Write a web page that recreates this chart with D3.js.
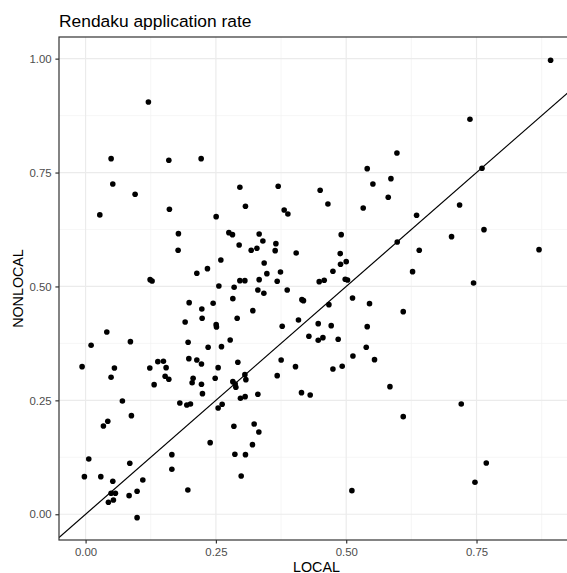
<!DOCTYPE html>
<html>
<head>
<meta charset="utf-8">
<script src="https://cdn.jsdelivr.net/npm/d3@7/dist/d3.min.js"></script>
<style>
	body { margin: 0; background: #fff; }
	svg { display: block; font-family: "Liberation Sans", Arial, Helvetica, sans-serif; }
</style>
</head>
<body>
<svg id="grafico" width="567" height="573"></svg>
<script>
// rendaku: tasa local vs no local, un punto por item
var local = [
	0.1205, 0.049, 0.1597, 0.2217, 0.0522, 0.095, 0.296, 0.3695, 0.450, 0.5403, 0.5512, 0.5858, 0.5806, 0.5973,
	0.8921, 0.7374, 0.7605,
	0.5326, 0.7175, 0.635, 0.7643, 0.7021, 0.5979, 0.6401, 0.8699, 0.6273, 0.7443, 0.5447, 0.6094, 0.5403,
	0.0273, 0.1238, 0.1276,
	0.1608, 0.2505, 0.3067, 0.381, 0.3881, 0.4649, 0.1781, 0.1775, 0.2749, 0.2818, 0.333, 0.3401, 0.2946,
	0.3651, 0.3637, 0.3177, 0.3286, 0.404, 0.4904, 0.4885, 0.2595, 0.3426, 0.5, 0.4891, 0.2134, 0.2338,
	0.3478, 0.3739, 0.4745, 0.296, 0.3056, 0.333, 0.3676, 0.4482, 0.4578, 0.4981, 0.5025, 0.2557, 0.285,
	0.3305, 0.342, 0.3868, 0.2825, 0.415, 0.418, 0.5121, 0.1987, 0.2447, 0.4668, 0.223, 0.3209, 0.2236,
	0.2908, 0.4084, 0.191, 0.2505, 0.2511, 0.3772, 0.4463, 0.4712, 0.4284, 0.4463, 0.4553, 0.4846, 0.2774,
	0.1967, 0.2351, 0.2607, 0.1493, 0.1545, 0.1981, 0.2134, 0.2223, 0.2921, 0.3752, 0.5129, 0.2543, 0.4027,
	0.4745, 0.4923, 0.1526, 0.1597, 0.2063, 0.2044, 0.2486, 0.3056, 0.3075, 0.2825, 0.287, 0.3676, 0.2223,
	0.2883, 0.2242, 0.2971, 0.3061, 0.3305, 0.4142, 0.4309,
	0.0407, 0.0106, 0.086, -0.0067, 0.0553, 0.0489, 0.1232, 0.1386, 0.1315, 0.0706, 0.0342, 0.0426, 0.0879,
	0.0061, -0.0023, 0.0292, 0.0848, 0.0522, 0.1098, 0.0489, 0.0572, 0.0438, 0.0534, 0.0835, 0.0988, 0.0988,
	0.1655, 0.1655, 0.1962, 0.239, 0.2845, 0.2864, 0.1808, 0.1942, 0.2012, 0.2543, 0.262,
	0.5384, 0.5543, 0.5839, 0.6094, 0.3234, 0.3324, 0.3202, 0.3067, 0.2985, 0.5109,
	0.747, 0.7207, 0.7687
];
var nonlocal = [
	0.905, 0.7805, 0.777, 0.7805, 0.725, 0.7024, 0.7177, 0.72, 0.711, 0.7586, 0.725, 0.7366, 0.6958, 0.793,
	0.9965, 0.867, 0.7594,
	0.6723, 0.6789, 0.6563, 0.6247, 0.6093, 0.5977, 0.5795, 0.5808, 0.5325, 0.5077, 0.4622, 0.4447, 0.4118,
	0.657, 0.5149, 0.5121,
	0.6694, 0.6532, 0.676, 0.6679, 0.6591, 0.6811, 0.6159, 0.5795, 0.6181, 0.6137, 0.6152, 0.5999, 0.5911,
	0.5939, 0.5786, 0.5795, 0.5838, 0.5735, 0.6137, 0.572, 0.5582, 0.5516, 0.5544, 0.5487, 0.529, 0.5391,
	0.5281, 0.5318, 0.5334, 0.5127, 0.5127, 0.5149, 0.5114, 0.5105, 0.5136, 0.5158, 0.5143, 0.5011, 0.4982,
	0.4923, 0.4851, 0.4923, 0.4732, 0.471, 0.4688, 0.4748, 0.4644, 0.4631, 0.46, 0.4506, 0.4469, 0.4302,
	0.4302, 0.4265, 0.4221, 0.4162, 0.4111, 0.4126, 0.4184, 0.414, 0.3907, 0.3819, 0.3876, 0.3841, 0.3826,
	0.3775, 0.3666, 0.3679, 0.3358, 0.3218, 0.3415, 0.3387, 0.3299, 0.3336, 0.3387, 0.3475, 0.3218, 0.324,
	0.3189, 0.3248, 0.3029, 0.2963, 0.2985, 0.2888, 0.2985, 0.3064, 0.2954, 0.291, 0.286, 0.3042, 0.2853,
	0.2788, 0.2647, 0.2546, 0.2581, 0.2634, 0.2669, 0.2619,
	0.4001, 0.3709, 0.3788, 0.324, 0.3211, 0.3007, 0.3211, 0.3349, 0.2845, 0.2487, 0.1938, 0.2041, 0.2164,
	0.1214, 0.0825, 0.0825, 0.1119, 0.0724, 0.0753, 0.0461, 0.0461, 0.0263, 0.0314, 0.0408, 0.0505, -0.0075,
	0.1308, 0.0988, 0.0533, 0.1572, 0.1932, 0.1317, 0.2443, 0.2399, 0.2421, 0.2333, 0.2414,
	0.3666, 0.3393, 0.2801, 0.2142, 0.1982, 0.1806, 0.1528, 0.1308, 0.0841, 0.0518,
	0.0702, 0.2421, 0.1126
];
var ticks_major = [0, 0.25, 0.5, 0.75, 1];
var ticks_minor = [0.125, 0.375, 0.625, 0.875];
var tick_labels = ["0.00", "0.25", "0.50", "0.75", "1.00"];

var puntos = local.map(function (d, i) { return { x: d, y: nonlocal[i] }; });

var margen = { left: 59, top: 37, right: 574, bottom: 540 };
var x = d3.scaleLinear().domain([-0.051, 0.937]).range([margen.left, margen.right]);
var y = d3.scaleLinear().domain([-0.0565, 1.0475]).range([margen.bottom, margen.top]);

var svg = d3.select("#grafico");

svg.append("defs").append("clipPath").attr("id", "panel_clip")
	.append("rect")
	.attr("x", margen.left).attr("y", margen.top)
	.attr("width", margen.right - margen.left).attr("height", margen.bottom - margen.top);

var panel = svg.append("g").attr("clip-path", "url(#panel_clip)");

// rejilla menor y mayor (theme_bw)
panel.selectAll(".vmin").data(ticks_minor).enter().append("line")
	.attr("x1", d => x(d)).attr("x2", d => x(d))
	.attr("y1", margen.top).attr("y2", margen.bottom)
	.attr("stroke", "#f2f2f2").attr("stroke-width", 0.7);
panel.selectAll(".hmin").data(ticks_minor).enter().append("line")
	.attr("y1", d => y(d)).attr("y2", d => y(d))
	.attr("x1", margen.left).attr("x2", margen.right)
	.attr("stroke", "#f2f2f2").attr("stroke-width", 0.7);
panel.selectAll(".vmaj").data(ticks_major).enter().append("line")
	.attr("x1", d => x(d)).attr("x2", d => x(d))
	.attr("y1", margen.top).attr("y2", margen.bottom)
	.attr("stroke", "#ebebeb").attr("stroke-width", 1.2);
panel.selectAll(".hmaj").data(ticks_major).enter().append("line")
	.attr("y1", d => y(d)).attr("y2", d => y(d))
	.attr("x1", margen.left).attr("x2", margen.right)
	.attr("stroke", "#ebebeb").attr("stroke-width", 1.2);

panel.selectAll("circle").data(puntos).enter().append("circle")
	.attr("cx", d => x(d.x)).attr("cy", d => y(d.y))
	.attr("r", 2.8).attr("fill", "#000");

// linea y = x
var lim = x.domain();
panel.append("line")
	.attr("x1", x(lim[0])).attr("y1", y(lim[0]))
	.attr("x2", x(lim[1])).attr("y2", y(lim[1]))
	.attr("stroke", "#000").attr("stroke-width", 1.2);

svg.append("rect")
	.attr("x", margen.left).attr("y", margen.top)
	.attr("width", margen.right - margen.left).attr("height", margen.bottom - margen.top)
	.attr("fill", "none").attr("stroke", "#333").attr("stroke-width", 1.2);

// ejes
var fmt = d => tick_labels[ticks_major.indexOf(d)];
var ejeX = svg.append("g").attr("transform", "translate(0," + margen.bottom + ")")
	.call(d3.axisBottom(x).tickValues(ticks_major.slice(0, 4)).tickFormat(fmt).tickSize(3.6).tickPadding(4));
var ejeY = svg.append("g").attr("transform", "translate(" + margen.left + ",0)")
	.call(d3.axisLeft(y).tickValues(ticks_major).tickFormat(fmt).tickSize(3.6).tickPadding(3.7));
[ejeX, ejeY].forEach(function (g) {
	g.select(".domain").remove();
	g.selectAll(".tick line").attr("stroke", "#333").attr("stroke-width", 1.2);
	g.selectAll(".tick text").attr("fill", "#4d4d4d").style("font-size", "11.4px").style("font-family", null);
});

svg.append("text").attr("x", 59).attr("y", 26.5)
	.style("font-size", "17.4px").attr("fill", "#000")
	.text("Rendaku application rate");

svg.append("text").attr("x", (margen.left + margen.right) / 2).attr("y", 571.5)
	.attr("text-anchor", "middle").style("font-size", "14.3px")
	.text("LOCAL");

svg.append("text")
	.attr("transform", "translate(23.3," + ((margen.top + margen.bottom) / 2) + ") rotate(-90)")
	.attr("text-anchor", "middle").style("font-size", "14.3px")
	.text("NONLOCAL");
</script>
</body>
</html>
